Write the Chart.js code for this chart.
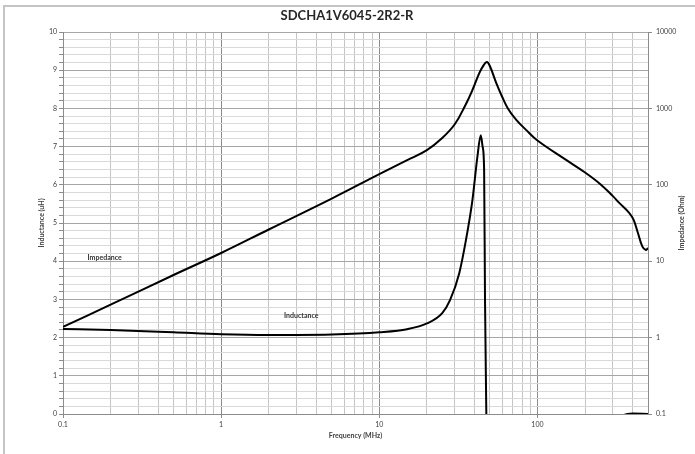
<!DOCTYPE html>
<html>
<head>
<meta charset="utf-8">
<script src="https://cdn.jsdelivr.net/npm/chart.js@4.4.0/dist/chart.umd.min.js"></script>
<style>
  body { margin: 0; background: #fff; }
  canvas { display: block; }
</style>
</head>
<body>
<canvas id="chart" width="695" height="454"></canvas>
<script>
const chartTitle = "SDCHA1V6045-2R2-R";

// impedance (Ohm) vs frequency (MHz), right log axis
const freqZ = [0.1, 0.2, 0.5, 1, 2, 5, 10, 15, 20, 25, 30, 35, 38.8, 42.8, 45, 47.8, 50, 55, 60, 65, 73, 85, 100, 150, 200, 250, 300, 329, 380, 405, 429, 461, 485, 497, 500];
const impedance = [1.38, 2.7, 6.6, 12.8, 26, 66, 138, 210, 285, 410, 620, 1100, 1740, 2880, 3500, 4050, 3590, 2130, 1400, 1000, 720, 520, 380, 215, 145, 102, 71, 58, 43, 35, 24.5, 15.5, 14.0, 14.7, 14.9];

// inductance (uH) vs frequency (MHz), left axis
const freqL = [0.1, 0.2, 0.5, 1, 2, 3, 5, 10, 15, 20, 25, 28, 32, 35.3, 38.8, 41.7, 43.8, 45, 46, 46.6, 47.5, 48.5, 60, 100, 200, 300, 370, 400, 500];
const inductance = [2.225, 2.2, 2.14, 2.09, 2.07, 2.07, 2.08, 2.14, 2.22, 2.37, 2.64, 2.98, 3.68, 4.55, 5.6, 6.73, 7.3, 7.0, 6.4, 3.0, 0, -4, -6, -3, -1, -0.2, 0, 0.01, 0];

const freqTicks = [0.1, 0.2, 0.3, 0.4, 0.5, 0.6, 0.7, 0.8, 0.9, 1, 2, 3, 4, 5, 6, 7, 8, 9, 10, 20, 30, 40, 50, 60, 70, 80, 90, 100, 200, 300, 400, 500];
const freqLabels = [0.1, 1, 10, 100];
const impTicks = [0.1, 1, 10, 100, 1000, 10000];

const isDecade = v => freqLabels.includes(v);
const isWhole = v => Math.abs(v - Math.round(v)) < 1e-6;
const tickFont = { family: "Lato", size: 7 };

const textPlugin = {
  id: "texts",
  beforeDraw(chart) {
    const ctx = chart.ctx;
    ctx.save();
    ctx.fillStyle = "#fff";
    ctx.fillRect(0, 0, chart.width, chart.height);
    ctx.strokeStyle = "#c4c4c4";
    ctx.lineWidth = 2;
    ctx.strokeRect(4, 6, 720, 480);
    ctx.restore();
  },
  afterDraw(chart) {
    const ctx = chart.ctx;
    const a = chart.chartArea;
    const x = chart.scales.x, y = chart.scales.y;
    ctx.save();
    ctx.fillStyle = "#262626";
    ctx.textAlign = "center";
    ctx.textBaseline = "middle";
    ctx.font = "bold 13px Lato";
    ctx.fillText(chartTitle, 347, 16);

    ctx.fillStyle = "#404040";
    ctx.font = "bold 7px Lato";
    ctx.fillText("Frequency (MHz)", (a.left + a.right) / 2, 436);
    ctx.save();
    ctx.translate(42, (a.top + a.bottom) / 2);
    ctx.rotate(-Math.PI / 2);
    ctx.fillText("Inductance (uH)", 0, 0);
    ctx.restore();
    ctx.save();
    ctx.translate(682, (a.top + a.bottom) / 2);
    ctx.rotate(-Math.PI / 2);
    ctx.fillText("Impedance (Ohm)", 0, 0);
    ctx.restore();

    ctx.textAlign = "left";
    ctx.font = "bold 7px Lato";
    ctx.fillStyle = "#333";
    ctx.fillText("Impedance", x.getPixelForValue(0.143), y.getPixelForValue(4.1));
    ctx.fillText("Inductance", x.getPixelForValue(2.5), y.getPixelForValue(2.57));
    ctx.restore();
  }
};

new Chart(document.getElementById("chart"), {
  type: "line",
  data: {
    datasets: [{
      label: "Impedance",
      data: freqZ.map((f, i) => ({ x: f, y: impedance[i] })),
      yAxisID: "y1",
      borderColor: "#000",
      borderWidth: 2,
      pointRadius: 0,
      tension: 0.4
    }, {
      label: "Inductance",
      data: freqL.map((f, i) => ({ x: f, y: inductance[i] })),
      yAxisID: "y",
      borderColor: "#000",
      borderWidth: 2,
      pointRadius: 0,
      cubicInterpolationMode: "monotone"
    }]
  },
  options: {
    responsive: false,
    animation: false,
    devicePixelRatio: 1,
    layout: { padding: { top: 32, left: 0, right: 0, bottom: 0 } },
    plugins: { legend: { display: false }, tooltip: { enabled: false } },
    scales: {
      x: {
        type: "logarithmic",
        min: 0.1,
        max: 500,
        afterBuildTicks: s => { s.ticks = freqTicks.map(v => ({ value: v })); },
        afterFit: s => { s.height = 40; },
        ticks: {
          autoSkip: false,
          maxRotation: 0,
          padding: 3,
          font: tickFont,
          color: "#404040",
          callback: v => isDecade(v) ? String(v) : ""
        },
        grid: {
          tickLength: 4,
          color: c => c.tick && isDecade(c.tick.value) ? "#8c8c8c" : "#c4c4c4",
          tickColor: c => c.tick && isDecade(c.tick.value) ? "#8c8c8c" : "rgba(0,0,0,0)"
        },
        border: { color: "#8c8c8c" }
      },
      y: {
        type: "linear",
        position: "left",
        min: 0,
        max: 10,
        afterBuildTicks: s => {
          const t = [];
          for (let i = 0; i <= 50; i++) t.push({ value: i / 5 });
          s.ticks = t;
        },
        afterFit: s => { s.width = 63; },
        ticks: {
          autoSkip: false,
          padding: 2,
          font: tickFont,
          color: "#404040",
          callback: v => isWhole(v) ? String(Math.round(v)) : ""
        },
        grid: {
          tickLength: 4,
          color: c => c.tick && isWhole(c.tick.value) ? "#a6a6a6" : "#d9d9d9",
          tickColor: "#8c8c8c"
        },
        border: { color: "#8c8c8c" }
      },
      y1: {
        type: "logarithmic",
        position: "right",
        min: 0.1,
        max: 10000,
        afterBuildTicks: s => { s.ticks = impTicks.map(v => ({ value: v })); },
        afterFit: s => { s.width = 47; },
        ticks: {
          autoSkip: false,
          padding: 4,
          font: tickFont,
          color: "#404040",
          callback: v => String(v)
        },
        grid: { drawOnChartArea: false, tickLength: 4, tickColor: "#8c8c8c" },
        border: { color: "#8c8c8c" }
      }
    }
  },
  plugins: [textPlugin]
});
</script>
</body>
</html>
